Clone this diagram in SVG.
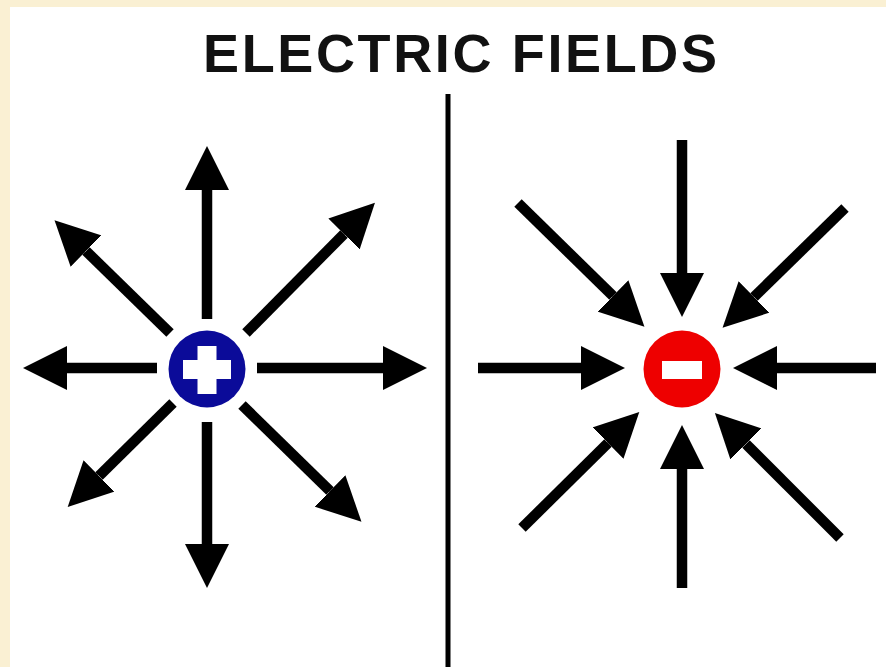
<svg xmlns="http://www.w3.org/2000/svg" width="886" height="667" viewBox="0 0 886 667">
  <style>
    .field { stroke: #000; stroke-width: 10.5; fill: none; stroke-linecap: butt; marker-end: url(#head); }
    .title { font-family: "Liberation Sans", Arial, sans-serif; font-size: 54px; font-weight: bold; fill: #111; }
  </style>
  <defs>
    <marker id="head" viewBox="0 0 44 44" markerWidth="44" markerHeight="44" markerUnits="userSpaceOnUse" refX="0" refY="22" orient="auto">
      <path d="M0,0 L44,22 L0,44 Z" fill="#000"/>
    </marker>
  </defs>
  <rect x="0" y="0" width="886" height="667" fill="#faf0d3"/>
  <rect x="10" y="7" width="876" height="660" fill="#ffffff"/>

  <g id="title">
    <text class="title" x="203" y="72" textLength="514" lengthAdjust="spacing">ELECTRIC FIELDS</text>
  </g>

  <g id="divider">
    <line x1="448" y1="94" x2="448" y2="667" stroke="#000" stroke-width="5"/>
  </g>

  <g id="connectors">
    <!-- positive charge: outward -->
    <line class="field" x1="207" y1="319" x2="207" y2="190"/>
    <line class="field" x1="257" y1="368" x2="383" y2="368"/>
    <line class="field" x1="157" y1="368" x2="67" y2="368"/>
    <line class="field" x1="207" y1="422" x2="207" y2="544"/>
    <line class="field" x1="246" y1="333" x2="344" y2="234"/>
    <line class="field" x1="170" y1="333" x2="86" y2="251"/>
    <line class="field" x1="173" y1="403" x2="99" y2="476"/>
    <line class="field" x1="242" y1="405" x2="330" y2="491"/>
    <!-- negative charge: inward -->
    <line class="field" x1="682" y1="140" x2="682" y2="273"/>
    <line class="field" x1="876" y1="368" x2="777" y2="368"/>
    <line class="field" x1="478" y1="368" x2="581" y2="368"/>
    <line class="field" x1="682" y1="588" x2="682" y2="469"/>
    <line class="field" x1="518" y1="203" x2="613" y2="296"/>
    <line class="field" x1="845" y1="208" x2="754" y2="297"/>
    <line class="field" x1="522" y1="528" x2="608" y2="443"/>
    <line class="field" x1="840" y1="538" x2="746" y2="444"/>
  </g>

  <g id="positive-charge">
    <circle cx="207" cy="369" r="38.5" fill="#0b0b99"/>
    <rect x="183" y="360" width="48" height="19" fill="#fff"/>
    <rect x="197.5" y="346" width="19" height="48" fill="#fff"/>
  </g>

  <g id="negative-charge">
    <circle cx="682" cy="369" r="38.5" fill="#ee0000"/>
    <rect x="662" y="361" width="40" height="18" fill="#fff"/>
  </g>
</svg>
